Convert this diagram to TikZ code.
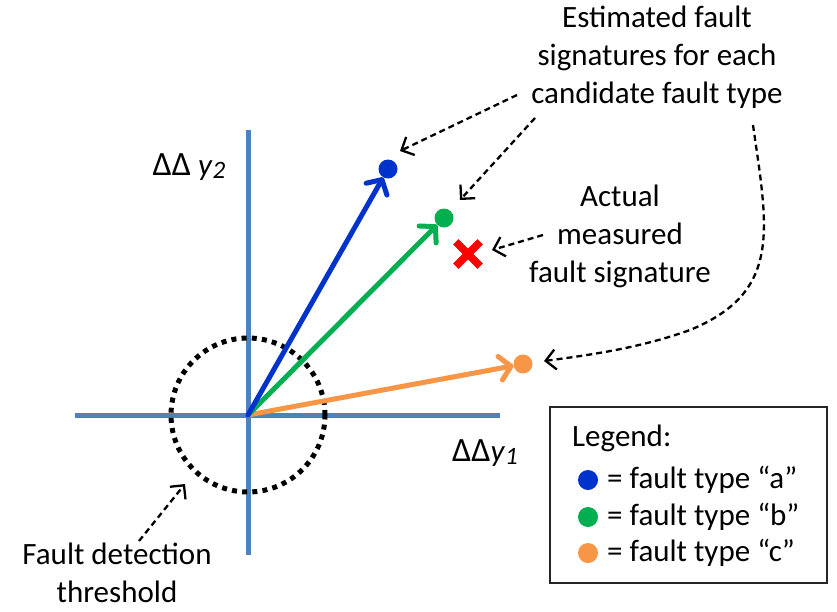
\documentclass[tikz,border=0pt]{standalone}
\usepackage{fontspec}
\setmainfont{Carlito}
\usetikzlibrary{arrows.meta}
\definecolor{axisblue}{HTML}{4F81BD}
\definecolor{fa}{HTML}{0033CC}
\definecolor{fb}{HTML}{00B050}
\definecolor{fc}{HTML}{F79646}
\definecolor{xred}{HTML}{FF0000}
\tikzset{
  txt/.style={align=center, inner sep=0pt, font=\fontsize{31}{38}\selectfont},
  ltxt/.style={anchor=west, inner sep=0pt, font=\fontsize{31}{38}\selectfont},
  axisline/.style={draw=axisblue, line width=5pt},
  vec/.style={line width=5pt, line cap=round, -{Straight Barb[length=11pt,width=24pt,round]}},
  dotnode/.style={circle, inner sep=0pt, minimum size=19pt},
  pointer/.style={line width=2.3pt, dash pattern=on 6pt off 4pt, -{Straight Barb[length=10pt,width=20pt]}},
}
\begin{document}
\begin{tikzpicture}[x=1pt,y=-1pt]
\useasboundingbox (0,0) rectangle (837,611);
% axes
\coordinate (xl) at (75,415);
\coordinate (xr) at (500,415);
\coordinate (yt) at (248,130);
\coordinate (yb) at (248,555);
\coordinate (o) at (248,415);
\draw[axisline] (xl) -- (xr);
\draw[axisline] (yt) -- (yb);
% threshold circle
\draw[line width=5pt, dash pattern=on 5pt off 5.2pt] (o) circle[radius=77pt];
% dots
\node[dotnode, fill=fa] (da) at (388,169) {};
\node[dotnode, fill=fb] (db) at (444,218) {};
\node[dotnode, fill=fc] (dc) at (523,364) {};
% vectors
\draw[vec, fc] (o) -- (dc);
\draw[vec, fb] (o) -- (db);
\draw[vec, fa] (o) -- (da);
% measured X
\node[inner sep=0pt, minimum size=24pt] (mx) at (468,254) {};
\draw[xred, line width=7.5pt] (mx.north west) -- (mx.south east);
\draw[xred, line width=7.5pt] (mx.north east) -- (mx.south west);
% axis labels
\node[txt] (ly2) at (189,167) {{\fontsize{34}{38}\selectfont ΔΔ} \textit{y}\raisebox{-0.2ex}{\textit{\fontsize{25}{30}\selectfont 2}}};
\node[txt] (ly1) at (485,453) {{\fontsize{34}{38}\selectfont ΔΔ}\textit{y}\raisebox{-0.2ex}{\textit{\fontsize{25}{30}\selectfont 1}}};
% texts
\node[txt] (est) at (657,57) {Estimated fault\\signatures for each\\candidate fault type};
\node[txt] (act) at (620,236) {Actual\\measured\\fault signature};
\node[txt] (thr) at (117,573) {Fault detection\\threshold};
% pointers
\coordinate (pa) at (517,95);
\coordinate (pb) at (535,118);
\coordinate (pc) at (753,125);
\coordinate (px) at (543,235);
\coordinate (pt) at (139,541);
\coordinate (ta) at (400,151);
\coordinate (tb) at (460,200);
\coordinate (tc) at (544,361);
\coordinate (tx) at (492,250);
\coordinate (tt) at (185,484);
\draw[pointer] (pa) -- (ta);
\draw[pointer] (pb) -- (tb);
\draw[pointer] (px) -- (tx);
\draw[pointer] (pt) -- (tt);
\draw[pointer] (pc) .. controls (768,230) and (782,292) .. (690,330) .. controls (640,348) and (590,355) .. (tc);
% legend
\node[draw=black!85, line width=2pt, minimum width=277pt, minimum height=176pt, inner sep=0pt] (leg) at (688.5,495) {};
\node[ltxt] (lt) at (572,438) {Legend:};
\node[dotnode, minimum size=20pt, fill=fa] (la) at (588,480) {};
\node[dotnode, minimum size=20pt, fill=fb] (lb) at (588,517) {};
\node[dotnode, minimum size=20pt, fill=fc] (lc) at (588,553) {};
\node[ltxt] (lat) at (607,480) {= fault type “a”};
\node[ltxt] (lbt) at (607,517) {= fault type “b”};
\node[ltxt] (lct) at (607,553) {= fault type “c”};
\end{tikzpicture}
\end{document}
